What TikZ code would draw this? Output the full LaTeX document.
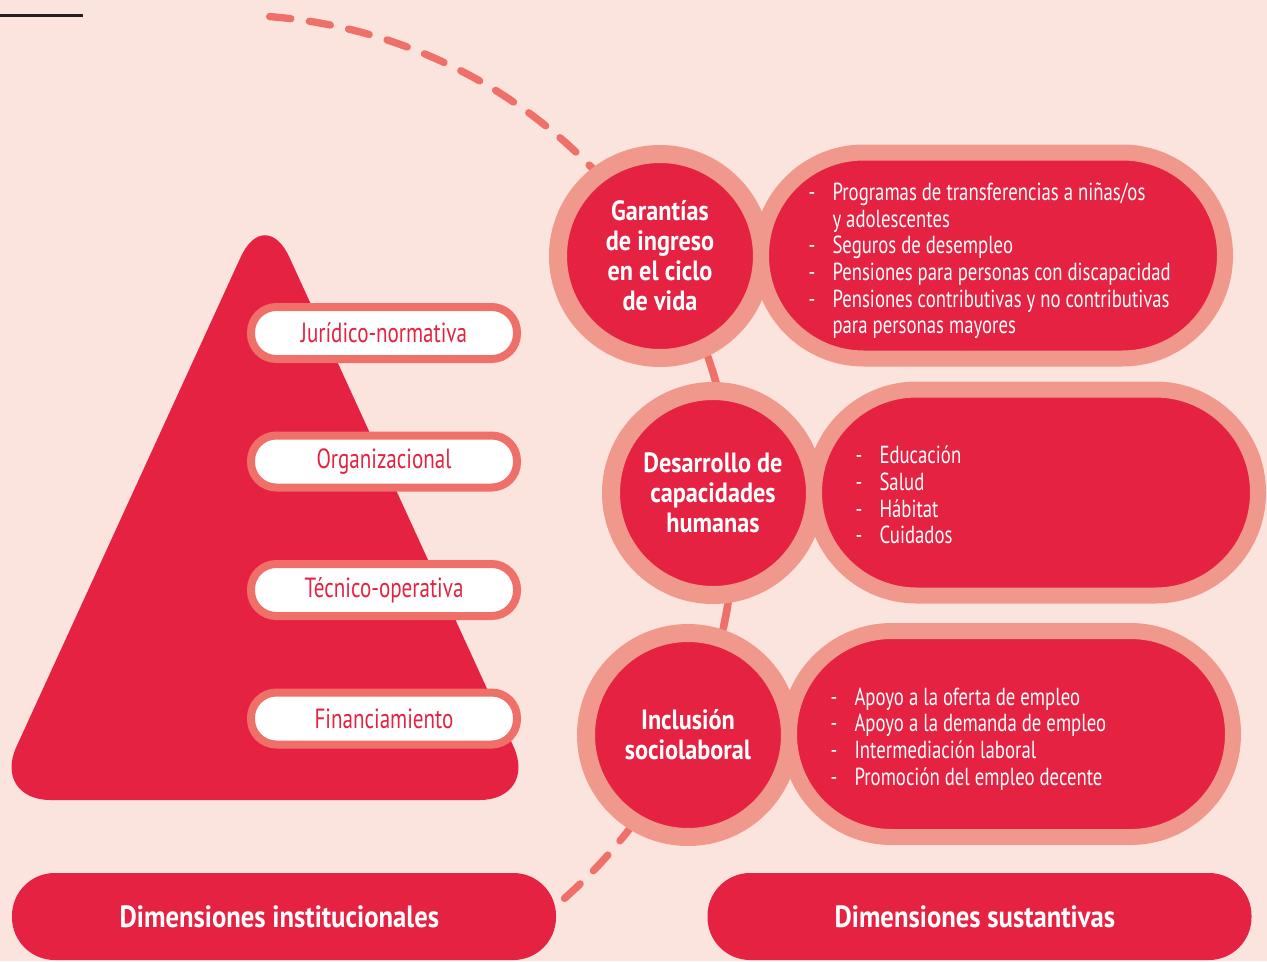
\documentclass[tikz,border=0pt]{standalone}
\usepackage{fontspec}
\setmainfont{PT Sans}[FakeStretch=0.76]
\newfontfamily\headfont{PT Sans}[FakeStretch=0.87]

\definecolor{bgpink}{RGB}{252,228,222}
\definecolor{mainred}{RGB}{229,34,66}
\definecolor{ringpink}{RGB}{240,152,139}
\definecolor{linepink}{RGB}{239,112,104}
\definecolor{darkline}{RGB}{35,31,32}

\newcommand{\litem}{\makebox[18pt][l]{-}}
\newcommand{\lcont}{\hspace*{18pt}}

\tikzset{every picture/.style={line width=0.75pt}}
\tikzset{
  arcline/.style={draw=linepink, line width=5.5pt, line cap=round},
  dimcircle/.style={circle, fill=mainred, draw=ringpink, line width=13.5pt, minimum size=153pt, inner sep=0pt, align=center, text=white, font=\headfont\bfseries\fontsize{20.9}{22.5}\selectfont},
  listpill/.style={rectangle, fill=mainred, draw=ringpink, line width=12pt, minimum height=154.5pt, rounded corners=77pt, inner sep=0pt},
  listtext/.style={align=left, text=white, inner sep=0pt, anchor=west, font=\fontsize{18.5}{20}\selectfont},
  levelpill/.style={rectangle, fill=white, draw=linepink, line width=6pt, minimum width=199.5pt, minimum height=39pt, rounded corners=19pt, inner sep=0pt, text=mainred, font=\fontsize{20.8}{22}\selectfont},
  basepill/.style={rectangle, fill=mainred, minimum width=408pt, minimum height=65.25pt, rounded corners=32pt, inner sep=0pt, text=white, font=\headfont\bfseries\fontsize{23}{25}\selectfont},
}

\begin{document}
\begin{tikzpicture}[x=0.75pt,y=0.75pt,yscale=-1,xscale=1]
	\useasboundingbox (0,0) rectangle (1267,961);
	%Shape: Rectangle [background]
	\fill [bgpink] (0,0) rectangle (1267,961);

	%Straight Lines [top rule]
	\draw [darkline, line width=2.25pt] (0,15) -- (83,15);

	%Curve Lines [dashed arc]
	\draw [arcline, dash pattern=on 16pt off 14pt] (230,520) ++(-85.5:505) arc [start angle=-85.5, end angle=52, radius=505];
	%Curve Lines [solid arc]
	\draw [arcline] (230,520) ++(-26:505) arc [start angle=-26, end angle=22, radius=505];

	%Shape: Triangle [pyramid]
	\fill [mainred, rounded corners=44pt] (265,800) -- (-8,800) -- (265,204) -- (538,800) -- cycle;

	% Text Node
	\node [levelpill] (juridico) at (384,333) {Jurídico-normativa};
	% Text Node
	\node [levelpill] (organizacional) at (384,461.5) {Organizacional};
	% Text Node
	\node [levelpill] (tecnico) at (384,590) {Técnico-operativa};
	% Text Node
	\node [levelpill] (financiamiento) at (384,718.5) {Financiamiento};

	%Shape: Circle
	\node [dimcircle] (ingreso) at (660,256) {Garantías\\de ingreso\\en el ciclo\\de vida};
	%Shape: Circle
	\node [dimcircle] (capacidades) at (713,493) {Desarrollo de\\capacidades\\humanas};
	%Shape: Circle
	\node [dimcircle] (inclusion) at (688,735) {Inclusión\\sociolaboral};

	%Shape: Pill
	\node [listpill, minimum width=348pt] (ingresobox) at (993,255.5) {};
	%Shape: Pill
	\node [listpill, minimum width=333pt] (capacidadesbox) at (1036,492.5) {};
	%Shape: Pill
	\node [listpill, minimum width=333pt] (inclusionbox) at (1011,734) {};

	% Text Node
	\node [listtext] (ingresoitems) at (808,261) {\litem Programas de transferencias a niñas/os\\\lcont y adolescentes\\\litem Seguros de desempleo\\\litem Pensiones para personas con discapacidad\\\litem Pensiones contributivas y no contributivas\\\lcont para personas mayores};
	% Text Node
	\node [listtext] (capacidadesitems) at (855,495) {\litem Educación\\\litem Salud\\\litem Hábitat\\\litem Cuidados};
	% Text Node
	\node [listtext] (inclusionitems) at (830,739) {\litem Apoyo a la oferta de empleo\\\litem Apoyo a la demanda de empleo\\\litem Intermediación laboral\\\litem Promoción del empleo decente};

	% Text Node
	\node [basepill] (institucionales) at (284,916.5) {Dimensiones institucionales\hspace*{7pt}};
	% Text Node
	\node [basepill] (sustantivas) at (979.5,916.5) {Dimensiones sustantivas\hspace*{7pt}};

\end{tikzpicture}
\end{document}
